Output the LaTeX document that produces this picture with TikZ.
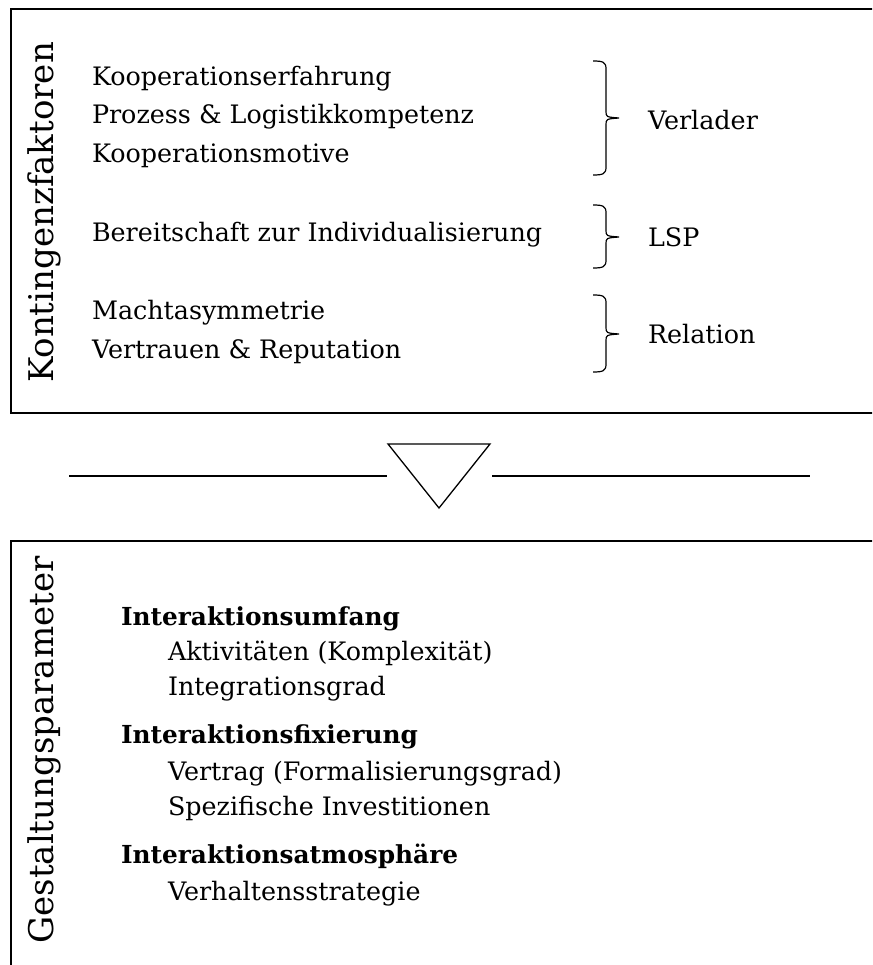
\documentclass[tikz,border=0pt]{standalone}
\usepackage{fontspec}
\setmainfont{DejaVu Serif}
\begin{document}
\begin{tikzpicture}[x=1pt,y=-1pt,
  every node/.style={inner sep=0pt, outer sep=0pt, font=\fontsize{25.4}{31}\selectfont},
  item/.style={anchor=base west},
  head/.style={anchor=base west, font=\fontsize{24.8}{31}\selectfont\bfseries},
  sidelabel/.style={rotate=90, anchor=base, font=\fontsize{34}{40}\selectfont},
  frame/.style={line width=2pt},
  rule/.style={line width=1.6pt},
  bracestyle/.style={line width=1.2pt},
]
\useasboundingbox (0,0) rectangle (872,965);
\clip (0,0) rectangle (872,965);
\fill[white] (0,0) rectangle (872,965);

% curly brace opening to the right: spine x, top y, tip y, bottom y
\newcommand\sidebrace[4]{%
  \draw[bracestyle] (#1-13,#2) .. controls (#1-3,#2) and (#1,#2+1) .. (#1,#2+8)
    -- (#1,#3-7) .. controls (#1,#3-1) .. (#1+13,#3)
    (#1+13,#3) .. controls (#1,#3+1) .. (#1,#3+7)
    -- (#1,#4-8) .. controls (#1,#4-1) and (#1-3,#4) .. (#1-13,#4);}

% upper frame: contingency factors
\draw[frame] (10.5,9) rectangle (900,413);
\node[sidelabel] (kf) at (53,212.5) {Kontingenzfaktoren};

\node[item] (k1) at (92,86)  {Kooperationserfahrung};
\node[item] (k2) at (92,124) {Prozess \& Logistikkompetenz};
\node[item] (k3) at (92,163) {Kooperationsmotive};
\node[item] (k4) at (92,242) {Bereitschaft zur Individualisierung};
\node[item] (k5) at (92,319) {Machtasymmetrie};
\node[item] (k6) at (92,358) {Vertrauen \& Reputation};

\sidebrace{606}{61}{118}{175}
\sidebrace{606}{205}{237}{268}
\sidebrace{606}{295}{334}{372}

\node[item] (verlader) at (648,130) {Verlader};
\node[item] (lsp)      at (648,247) {LSP};
\node[item] (relation) at (648,343) {Relation};

% transition marker between the frames
\coordinate (ll) at (69,476);
\coordinate (lr) at (387,476);
\coordinate (rl) at (492,476);
\coordinate (rr) at (810,476);
\draw[rule] (ll) -- (lr);
\draw[rule] (rl) -- (rr);
\draw[line width=1.3pt, line join=miter] (388,444) -- (490,444) -- (439,508) -- cycle;

% lower frame: design parameters
\draw[frame] (10.5,541) rectangle (900,1000);
\node[sidelabel] (gp) at (53,750) {Gestaltungsparameter};

\node[head] (h1) at (121,625) {Interaktionsumfang};
\node[item] (s11) at (168,660) {Aktivit\"aten (Komplexit\"at)};
\node[item] (s12) at (168,695) {Integrationsgrad};
\node[head] (h2) at (121,743) {Interaktionsfixierung};
\node[item] (s21) at (168,780) {Vertrag (Formalisierungsgrad)};
\node[item] (s22) at (168,815) {Spezifische Investitionen};
\node[head] (h3) at (121,863) {Interaktionsatmosph\"are};
\node[item] (s31) at (168,900) {Verhaltensstrategie};
\end{tikzpicture}
\end{document}
